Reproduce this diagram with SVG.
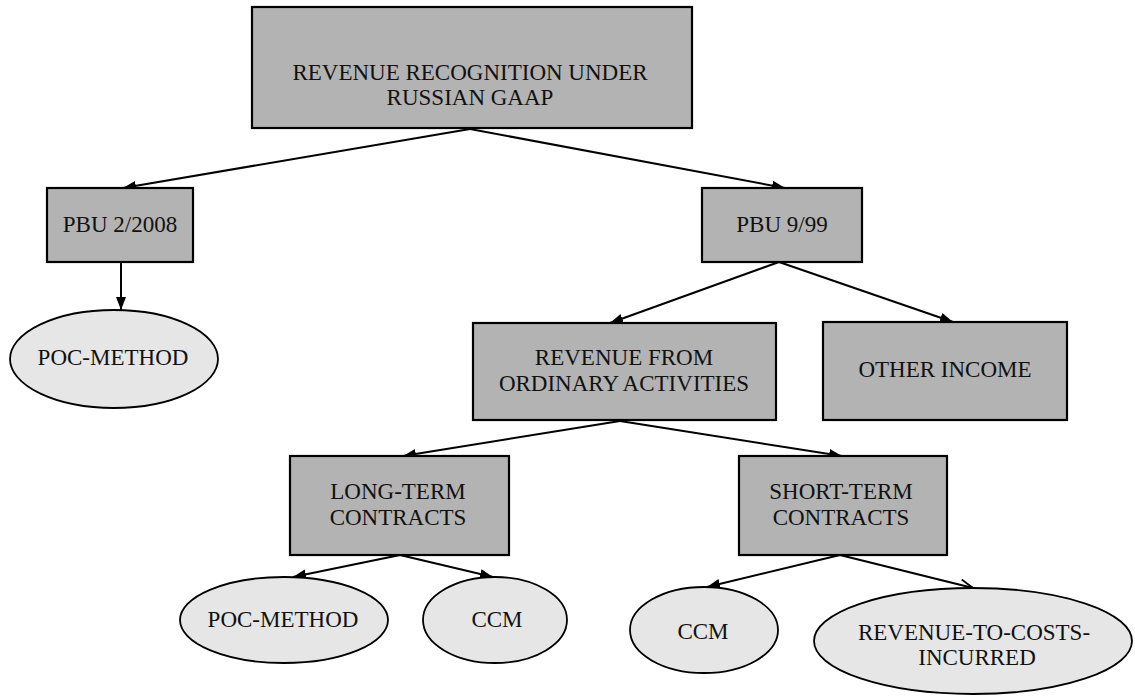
<svg xmlns="http://www.w3.org/2000/svg" width="1135" height="697" viewBox="0 0 1135 697">
<defs>
<style>
.box{fill:#b3b3b3;stroke:#000;stroke-width:2.2}
.ell{fill:#e6e6e6;stroke:#000;stroke-width:1.8}
.t{font-family:"Liberation Serif","Times New Roman",serif;font-size:23px;fill:#111;text-anchor:middle}
.c{fill:none;stroke:#000;stroke-width:2}
</style>
<marker id="ah" markerUnits="userSpaceOnUse" markerWidth="14" markerHeight="12" refX="13" refY="5" orient="auto">
<path d="M0,0 L13,5 L0,10 z" fill="#000"/>
</marker>
<marker id="ao" markerUnits="userSpaceOnUse" markerWidth="16" markerHeight="14" refX="14" refY="6" orient="auto">
<path d="M1,0.5 L14,6 L1,11.5" fill="none" stroke="#000" stroke-width="1.8"/>
</marker>
</defs>
<rect width="1135" height="697" fill="#fff"/>
<g id="connectors">
<line class="c" x1="470" y1="129" x2="123" y2="188" marker-end="url(#ah)"/>
<line class="c" x1="470" y1="129" x2="785" y2="188" marker-end="url(#ah)"/>
<line class="c" x1="121" y1="262" x2="121" y2="310" stroke-width="3.2" marker-end="url(#ah)"/>
<line class="c" x1="779" y1="262" x2="610" y2="323" marker-end="url(#ah)"/>
<line class="c" x1="779" y1="262" x2="953" y2="322" marker-end="url(#ah)"/>
<line class="c" x1="620" y1="421" x2="403" y2="456" marker-end="url(#ah)"/>
<line class="c" x1="620" y1="421" x2="842" y2="456" marker-end="url(#ah)"/>
<line class="c" x1="400" y1="555" x2="293" y2="577" marker-end="url(#ah)"/>
<line class="c" x1="400" y1="555" x2="493" y2="577" marker-end="url(#ah)"/>
<line class="c" x1="840" y1="555" x2="707" y2="587" marker-end="url(#ah)"/>
<line class="c" x1="840" y1="555" x2="973" y2="588" marker-end="url(#ao)"/>
</g>
<g id="root">
<rect class="box" x="252" y="7" width="440" height="121" stroke-width="3"/>
<text class="t" x="470" y="80">REVENUE RECOGNITION UNDER</text>
<text class="t" x="470" y="105">RUSSIAN GAAP</text>
</g>
<g id="pbu2">
<rect class="box" x="47" y="188" width="146" height="74"/>
<text class="t" x="120" y="232">PBU 2/2008</text>
</g>
<g id="poc1">
<ellipse class="ell" cx="114" cy="359" rx="104" ry="49"/>
<text class="t" x="113" y="365">POC-METHOD</text>
</g>
<g id="pbu9">
<rect class="box" x="702" y="188" width="160" height="74"/>
<text class="t" x="782" y="232">PBU 9/99</text>
</g>
<g id="ordinary">
<rect class="box" x="473" y="323" width="303" height="97"/>
<text class="t" x="624" y="365">REVENUE FROM</text>
<text class="t" x="624" y="391">ORDINARY ACTIVITIES</text>
</g>
<g id="other">
<rect class="box" x="823" y="322" width="244" height="98"/>
<text class="t" x="945" y="377">OTHER INCOME</text>
</g>
<g id="longterm">
<rect class="box" x="290" y="456" width="219" height="99"/>
<text class="t" x="398" y="499">LONG-TERM</text>
<text class="t" x="398" y="525">CONTRACTS</text>
</g>
<g id="shortterm">
<rect class="box" x="739" y="456" width="208" height="99"/>
<text class="t" x="841" y="499">SHORT-TERM</text>
<text class="t" x="841" y="525">CONTRACTS</text>
</g>
<g id="poc2">
<ellipse class="ell" cx="284" cy="620" rx="104" ry="43"/>
<text class="t" x="283" y="627">POC-METHOD</text>
</g>
<g id="ccm1">
<ellipse class="ell" cx="495" cy="620" rx="72" ry="43"/>
<text class="t" x="497" y="627">CCM</text>
</g>
<g id="ccm2">
<ellipse class="ell" cx="704" cy="630" rx="74" ry="43"/>
<text class="t" x="703" y="639">CCM</text>
</g>
<g id="revcosts">
<ellipse class="ell" cx="973" cy="641" rx="159" ry="53"/>
<text class="t" x="974" y="640">REVENUE-TO-COSTS-</text>
<text class="t" x="977" y="665">INCURRED</text>
</g>
</svg>
